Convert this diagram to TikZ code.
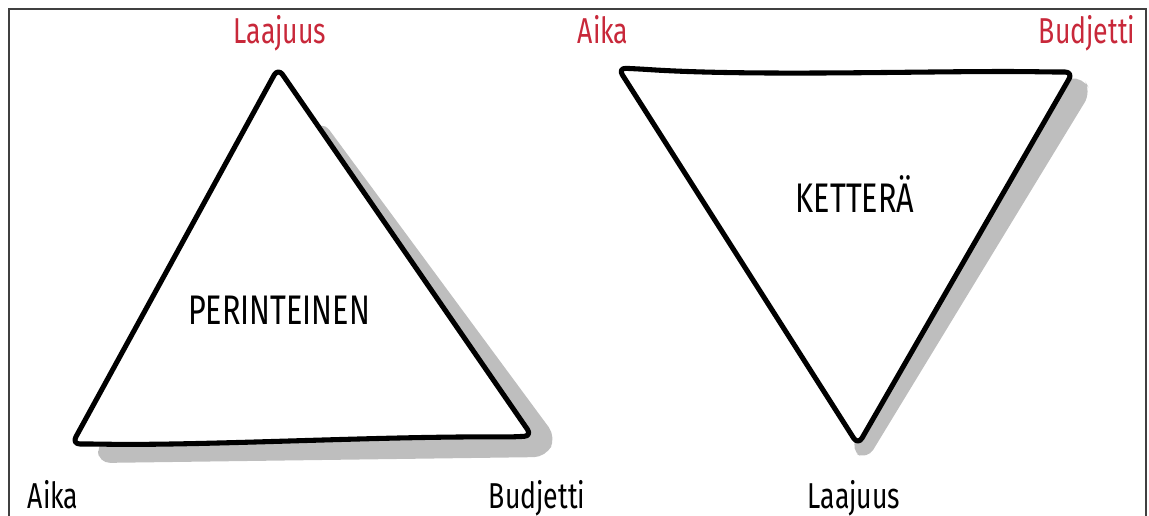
\documentclass[tikz,border=0pt]{standalone}
\usepackage{fontspec}
\setmainfont{Fira Sans}[FakeStretch=0.74]
\definecolor{cornerRed}{HTML}{C8283A}
\definecolor{shadeGray}{HTML}{BEBEBE}
\begin{document}
\begin{tikzpicture}[x=0.75pt, y=-0.75pt,
  corner/.style={font=\fontsize{27}{30}\selectfont, inner sep=0pt, anchor=base},
  hot/.style={corner, text=cornerRed},
  title/.style={font=\fontsize{31}{34}\selectfont, inner sep=0pt, anchor=base},
  outline/.style={draw=black, fill=white, line width=3.8pt, line join=round,
                  rounded corners=6pt},
  shade/.style={fill=shadeGray, rounded corners=9pt}
]
\useasboundingbox (0,0) rectangle (1149,516);
\draw[line width=1.5pt, black!75] (9,9) rectangle (1146,560);

% perinteinen kolmio
\coordinate (pTop)   at (278,68);
\coordinate (pRight) at (532,436);
\coordinate (pLeft)  at (72,444);
\fill[shade] (322,120) -- (556,437) -- (546,457) -- (98,463) -- (98,444) -- cycle;
\draw[outline] (pTop) -- (pRight) -- (510,437)
  .. controls (380,436) and (200,446) .. (95,444) -- (pLeft) -- cycle;

% ketterä kolmio
\coordinate (kLeft)   at (618,68);
\coordinate (kRight)  at (1073,72);
\coordinate (kBottom) at (858,445);
\fill[shade] (1058,80) -- (1083,77) -- (1091,92) -- (867,460) -- (850,450) -- cycle;
\draw[outline] (kLeft) -- (640,69)
  .. controls (760,77) and (950,70) .. (1050,72) -- (kRight) -- (kBottom) -- cycle;

% nimet
\node[title] (trad)  at (279,325) {PERINTEINEN};
\node[title] (agile) at (855,213) {KETTERÄ};

% kulmat
\node[hot]    (pScope) at (280,44)  {Laajuus};
\node[corner] (pTime)  at (53,508)  {Aika};
\node[corner] (pCost)  at (537,508) {Budjetti};
\node[hot]    (kTime)  at (603,44)  {Aika};
\node[hot]    (kCost)  at (1087,44) {Budjetti};
\node[corner] (kScope) at (854,508) {Laajuus};
\end{tikzpicture}
\end{document}
